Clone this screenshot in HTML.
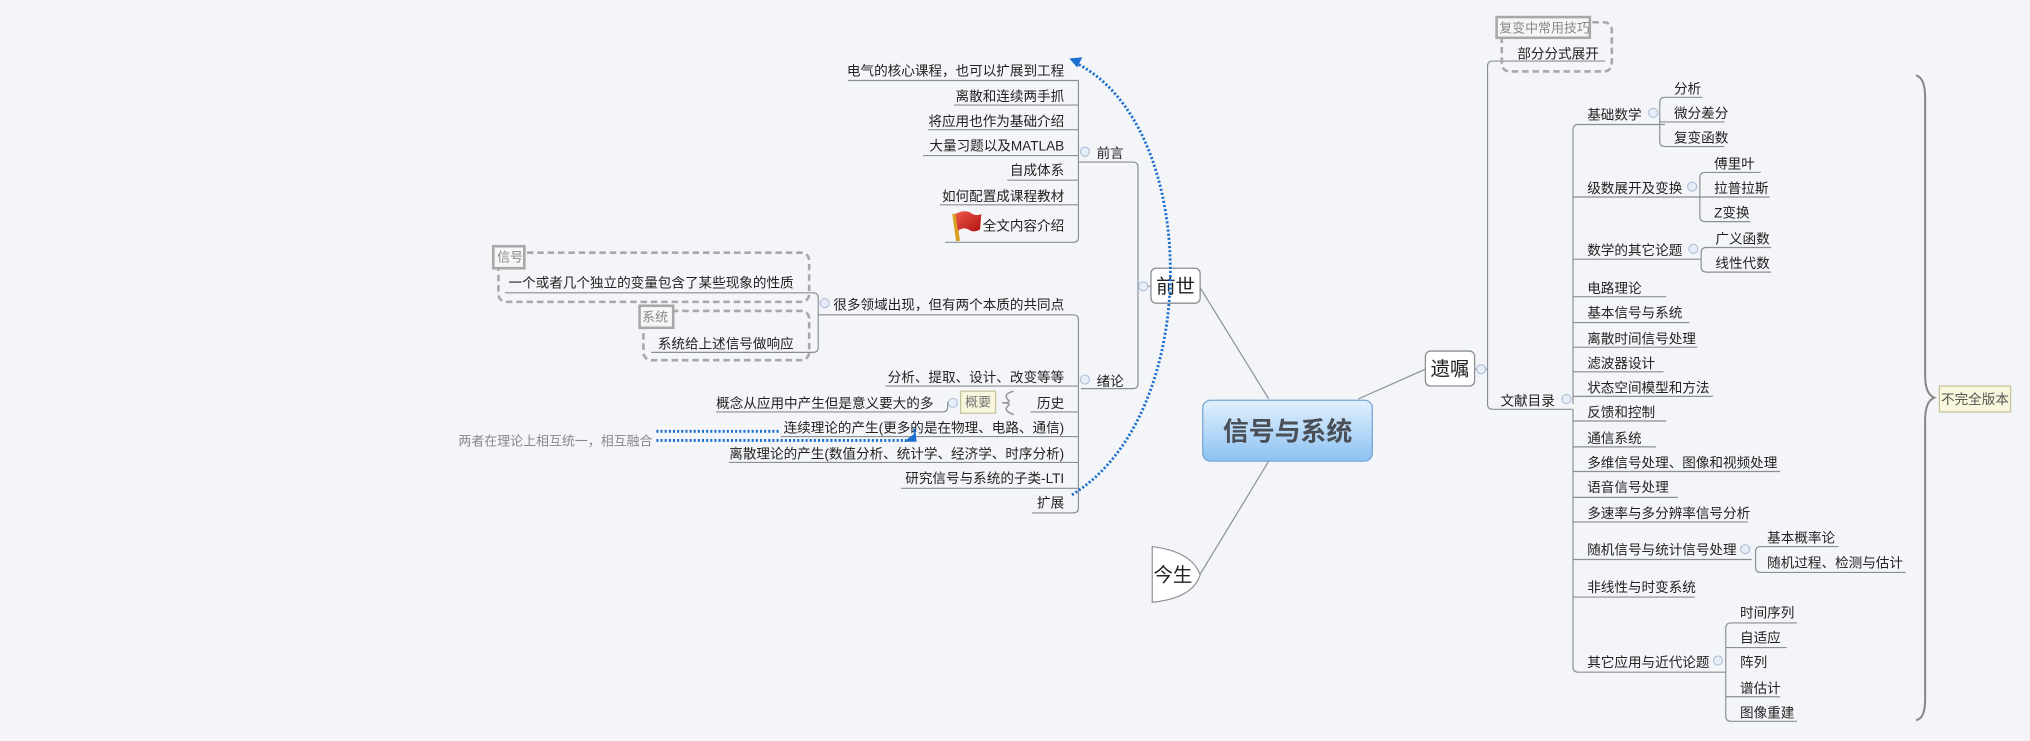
<!DOCTYPE html>
<html><head><meta charset="utf-8"><style>
html,body{margin:0;padding:0;background:#f3f5f8;}
svg{display:block;}
text{font-family:"Liberation Sans","Noto Sans CJK SC",sans-serif;fill:#222;}
</style></head><body>
<svg width="2030" height="741" viewBox="0 0 1568 572" xmlns="http://www.w3.org/2000/svg">
<defs>
<linearGradient id="cg" x1="0" y1="0" x2="0" y2="1"><stop offset="0" stop-color="#e2f0fd"/><stop offset="1" stop-color="#8cc2f2"/></linearGradient>
<linearGradient id="fg" x1="0" y1="0" x2="1" y2="1"><stop offset="0" stop-color="#f05a4a"/><stop offset="1" stop-color="#b01010"/></linearGradient>
</defs>
<rect width="1568" height="572" fill="#f3f5f8"/>
<g stroke="#8a8e95" stroke-width="0.9" fill="none">
<line x1="980" y1="308" x2="927" y2="222"/>
<line x1="1049" y1="308" x2="1101" y2="285"/>
<line x1="980" y1="356" x2="926" y2="445"/>
<path d="M889 221 H879 M835 125 H875 Q879 125 879 129 V296 Q879 300 875 300 H835"/>
<path d="M833 62 V183 Q833 187 829 187 H730"/>
<path d="M655 62 H833 M737 81 H833 M717 100 H833 M713 120 H833 M778 139 H833 M726 158 H833 M835 125 H833"/>
<path d="M632 243 H829 Q833 243 833 247 V392 Q833 396 829 396 H797"/>
<path d="M684 298 H833 M796 318 H833 M603 337 H833 M563 357 H833 M696 377 H833"/>
<path d="M390 226 H628 Q632 226 632 230 V268 Q632 272 628 272 H503"/>
<path d="M553 318 H728 Q732 318 732 314 V310"/>
<path d="M1139 285 H1149 M1240 47 H1153 Q1149 47 1149 51 V312 Q1149 316 1153 316 H1215"/>
<path d="M1215 312 V100 Q1215 96 1219 96 H1286 M1215 316 V515 Q1215 519 1219 519 H1333"/>
<path d="M1215 152 H1313 M1215 200 H1314 M1215 229 H1287 M1215 249 H1305 M1215 268 H1311 M1215 287 H1285 M1215 306 H1323 M1215 325 H1287 M1215 345 H1279 M1215 364 H1375 M1215 384 H1296 M1215 403 H1350 M1215 432 H1353 M1215 461 H1309"/>
<path d="M1282 79 Q1282 75 1286 75 H1315 M1282 79 V109 Q1282 113 1286 113 H1332 M1282 94 H1332"/>
<path d="M1313 137 Q1313 133 1317 133 H1360 M1313 137 V167 Q1313 171 1317 171 H1352 M1313 152 H1367"/>
<path d="M1314 195 Q1314 191 1318 191 H1368 M1314 195 V206 Q1314 210 1318 210 H1368"/>
<path d="M1356 426 Q1356 422 1360 422 H1420 M1356 426 V438 Q1356 442 1360 442 H1472"/>
<path d="M1333 485 Q1333 481 1337 481 H1388 M1333 485 V553 Q1333 557 1337 557 H1388 M1333 500 H1380 M1333 538 H1375"/>
</g>
<g fill="#e6edf7" stroke="#a9bdd8" stroke-width="0.8">
<circle cx="883" cy="221" r="3.5"/><circle cx="838" cy="117" r="3.5"/><circle cx="838" cy="293" r="3.5"/>
<circle cx="637" cy="234" r="3.5"/><circle cx="736" cy="311" r="3.5"/>
<circle cx="1144" cy="285" r="3.5"/><circle cx="1210" cy="308" r="3.5"/>
<circle cx="1277" cy="87" r="3.5"/><circle cx="1307" cy="144" r="3.5"/><circle cx="1308" cy="192" r="3.5"/>
<circle cx="1348" cy="424" r="3.5"/><circle cx="1327" cy="510" r="3.5"/>
</g>
<g fill="none" stroke="#a8a8a8" stroke-width="2" stroke-dasharray="5,3">
<rect x="385" y="195" width="240" height="38" rx="6"/>
<rect x="497" y="240" width="128" height="38" rx="6"/>
<rect x="1160" y="17" width="85" height="38" rx="6"/>
</g>
<g fill="#f6f6f6" stroke="#a8a8a8" stroke-width="2">
<rect x="381" y="190" width="24" height="17"/>
<rect x="494" y="236" width="26" height="17"/>
<rect x="1156" y="13" width="72" height="16"/>
</g>
<g font-size="10">
<text x="384" y="202" style="fill:#888">信号</text>
<text x="496" y="248" style="fill:#888">系统</text>
<text x="1158" y="25" style="fill:#888">复变中常用技巧</text>
</g>
<rect x="929" y="309" width="131" height="47" rx="6" fill="url(#cg)" stroke="#7aa6d4"/>
<text x="994.5" y="340" font-size="20" font-weight="bold" text-anchor="middle" style="fill:#4a4f56">信号与系统</text>
<rect x="889" y="207" width="38" height="27" rx="4" fill="#fff" stroke="#8a8e95"/>
<text x="908" y="226" font-size="15" text-anchor="middle">前世</text>
<rect x="1101" y="271" width="38" height="27" rx="4" fill="#fff" stroke="#8a8e95"/>
<text x="1120" y="290" font-size="15" text-anchor="middle">遗嘱</text>
<path d="M890 422 Q921 426 927 444 Q921 462 890 465 Z" fill="#fff" stroke="#8a8e95" stroke-width="0.9"/>
<text x="891" y="449" font-size="15">今生</text>
<rect x="742" y="302" width="27" height="17" fill="#f8f6dc" stroke="#c8c49a"/>
<text x="755.5" y="314" font-size="10" text-anchor="middle" style="fill:#777">概要</text>
<path d="M783 302 Q774 304 779 309 Q781 311 774 311 Q781 311 779 313 Q774 317 783 320" fill="none" stroke="#999" stroke-width="1.2"/>
<path d="M1480 58 Q1487 60 1487 75 V290 Q1487 304 1494 307 Q1487 310 1487 324 V540 Q1487 555 1480 556" fill="none" stroke="#888" stroke-width="1.6"/>
<rect x="1498" y="298" width="55" height="20" fill="#f8f6dc" stroke="#c8c49a"/>
<text x="1525.5" y="312" font-size="10.5" text-anchor="middle" style="fill:#555">不完全版本</text>
<path d="M737 165 L740 186" stroke="#d8a020" stroke-width="3"/>
<path d="M738 165 Q746 161 751 165 Q755 167 758 165 L757 177 Q752 180 748 177 Q744 175 740 178 Z" fill="url(#fg)"/>
<g font-size="10.5" text-anchor="end" dominant-baseline="central" transform="translate(0,1.5)">
<text x="822" y="53">电气的核心课程，也可以扩展到工程</text>
<text x="822" y="73">离散和连续两手抓</text>
<text x="822" y="92">将应用也作为基础介绍</text>
<text x="822" y="111">大量习题以及MATLAB</text>
<text x="822" y="130">自成体系</text>
<text x="822" y="150">如何配置成课程教材</text>
<text x="822" y="173">全文内容介绍</text>
<text x="822" y="234">很多领域出现，但有两个本质的共同点</text>
<text x="822" y="290">分析、提取、设计、改变等等</text>
<text x="822" y="310">历史</text>
<text x="822" y="329">连续理论的产生(更多的是在物理、电路、通信)</text>
<text x="822" y="349">离散理论的产生(数值分析、统计学、经济学、时序分析)</text>
<text x="822" y="368">研究信号与系统的子类-LTI</text>
<text x="822" y="387">扩展</text>
<text x="721" y="310">概念从应用中产生但是意义要大的多</text>
<text x="868" y="117">前言</text>
<text x="868" y="293">绪论</text>
<text x="613" y="217">一个或者几个独立的变量包含了某些现象的性质</text>
<text x="613" y="264">系统给上述信号做响应</text>
<text x="504" y="339" font-size="10" style="fill:#888">两者在理论上相互统一，相互融合</text>
</g>
<g font-size="10.5" dominant-baseline="central" transform="translate(0,1.5)">
<text x="1172" y="40">部分分式展开</text>
<text x="1159" y="308">文献目录</text>
<text x="1226" y="87">基础数学</text>
<text x="1226" y="144">级数展开及变换</text>
<text x="1226" y="192">数学的其它论题</text>
<text x="1226" y="221">电路理论</text>
<text x="1226" y="240">基本信号与系统</text>
<text x="1226" y="260">离散时间信号处理</text>
<text x="1226" y="279">滤波器设计</text>
<text x="1226" y="298">状态空间模型和方法</text>
<text x="1226" y="317">反馈和控制</text>
<text x="1226" y="337">通信系统</text>
<text x="1226" y="356">多维信号处理、图像和视频处理</text>
<text x="1226" y="375">语音信号处理</text>
<text x="1226" y="395">多速率与多分辨率信号分析</text>
<text x="1226" y="423">随机信号与统计信号处理</text>
<text x="1226" y="452">非线性与时变系统</text>
<text x="1226" y="510">其它应用与近代论题</text>
<text x="1293" y="67">分析</text>
<text x="1293" y="86">微分差分</text>
<text x="1293" y="105">复变函数</text>
<text x="1324" y="125">傅里叶</text>
<text x="1324" y="144">拉普拉斯</text>
<text x="1324" y="163">Z变换</text>
<text x="1325" y="183">广义函数</text>
<text x="1325" y="202">线性代数</text>
<text x="1365" y="414">基本概率论</text>
<text x="1365" y="433">随机过程、检测与估计</text>
<text x="1344" y="472">时间序列</text>
<text x="1344" y="491">自适应</text>
<text x="1344" y="510">阵列</text>
<text x="1344" y="530">谱估计</text>
<text x="1344" y="549">图像重建</text>
</g>
<g fill="none" stroke="#1a6fcf" stroke-width="2.2" stroke-dasharray="1.6,1.6">
<path d="M828 382 C 930 320, 928 95, 830 48"/>
<path d="M507 333 H603"/>
<path d="M507 340 H700"/>
</g>
<path d="M826 45 L836 44 L832 52 Z" fill="#1a6fcf"/>
<path d="M698 341 L706 335 L705 331 L707 331 L708 341 Z" fill="#1a6fcf"/>
</svg>
</body></html>
